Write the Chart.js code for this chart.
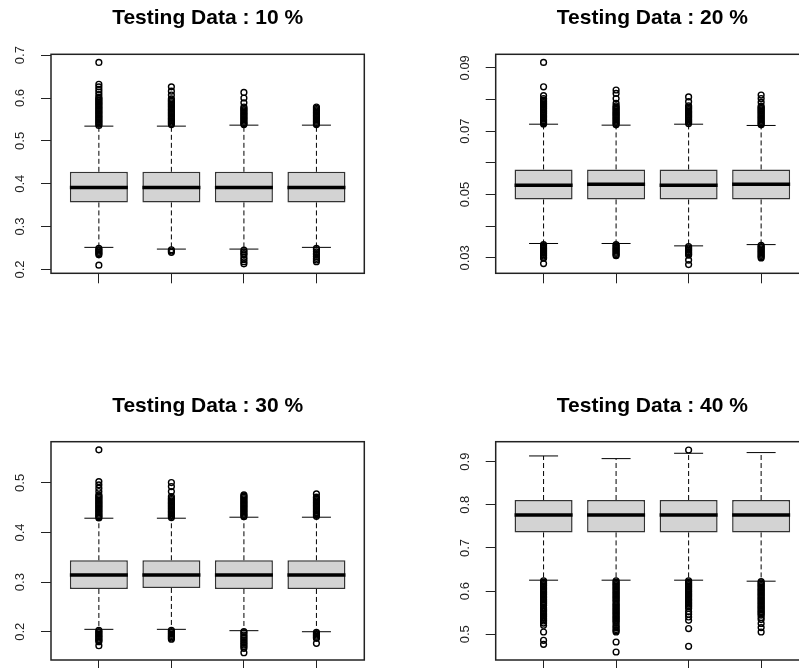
<!DOCTYPE html>
<html>
<head>
<meta charset="utf-8">
<title>Testing Data boxplots</title>
<script src="https://cdn.jsdelivr.net/npm/chart.js@4.4.0/dist/chart.umd.min.js"></script>
<style>
  html, body { margin: 0; padding: 0; background: #fff; overflow: hidden; }
  body { width: 799px; height: 668px; position: relative; }
  canvas { position: absolute; }
</style>
</head>
<body>
<canvas id="p10" width="400" height="300" style="left:0;top:0"></canvas>
<canvas id="p20" width="420" height="300" style="left:400px;top:0"></canvas>
<canvas id="p30" width="400" height="300" style="left:0;top:380px"></canvas>
<canvas id="p40" width="420" height="300" style="left:400px;top:380px"></canvas>
<script>
// four groups per panel
var groups = [1, 2, 3, 4];

// Testing Data : 10 %
var q1_10 = [0.3564, 0.3564, 0.3564, 0.3564];
var med_10 = [0.3914, 0.3914, 0.3914, 0.3914];
var q3_10 = [0.4278, 0.4278, 0.4278, 0.4278];
var lo_10 = [0.2515, 0.2475, 0.2475, 0.2515];
var hi_10 = [0.5344, 0.5344, 0.5367, 0.5367];
var out_10 = [
    [0.683, 0.632, 0.626, 0.620, 0.614, 0.608, 0.602, 0.599, 0.596, 0.593, 0.590, 0.587, 0.584, 0.581, 0.578, 0.575,
     0.572, 0.569, 0.566, 0.563, 0.560, 0.557, 0.554, 0.551, 0.548, 0.545, 0.542, 0.539, 0.536,
     0.249, 0.246, 0.243, 0.240, 0.237, 0.234, 0.210],
    [0.626, 0.616, 0.607, 0.598, 0.595, 0.592, 0.589, 0.586, 0.583, 0.580, 0.577, 0.574, 0.571, 0.568, 0.565, 0.562,
     0.559, 0.556, 0.553, 0.550, 0.547, 0.544, 0.541, 0.538,
     0.246, 0.243, 0.240],
    [0.613, 0.600, 0.589, 0.579, 0.576, 0.573, 0.570, 0.567, 0.564, 0.561, 0.558, 0.555, 0.552, 0.549, 0.546, 0.543,
     0.540, 0.538,
     0.245, 0.241, 0.237, 0.234, 0.228, 0.223, 0.218, 0.213],
    [0.579, 0.576, 0.573, 0.570, 0.567, 0.564, 0.561, 0.558, 0.555, 0.552, 0.549, 0.546, 0.543, 0.540, 0.538,
     0.249, 0.246, 0.241, 0.237, 0.234, 0.230, 0.226, 0.222, 0.218]
];
var ticks_10 = [0.2, 0.3, 0.4, 0.5, 0.6, 0.7];
var labels_10 = ['0.2', '0.3', '0.4', '0.5', '0.6', '0.7'];

// Testing Data : 20 %
var q1_20 = [0.04845, 0.04845, 0.04845, 0.04845];
var med_20 = [0.05296, 0.05328, 0.05296, 0.05328];
var q3_20 = [0.05792, 0.05792, 0.05792, 0.05792];
var lo_20 = [0.03455, 0.03455, 0.0338, 0.0342];
var hi_20 = [0.0722, 0.0719, 0.0722, 0.0718];
var out_20 = [
    [0.0917, 0.0840, 0.0812, 0.0803, 0.0798, 0.0794, 0.0790, 0.0786, 0.0782, 0.0778, 0.0774, 0.0770, 0.0766, 0.0762,
     0.0758, 0.0754, 0.0750, 0.0746, 0.0742, 0.0738, 0.0734, 0.0730, 0.0726, 0.0723,
     0.0342, 0.0338, 0.0334, 0.0330, 0.0326, 0.0322, 0.0318, 0.0314, 0.0310, 0.0306, 0.0302, 0.0299, 0.0282],
    [0.0830, 0.0819, 0.0803, 0.0788, 0.0780, 0.0776, 0.0772, 0.0768, 0.0764, 0.0760, 0.0756, 0.0752, 0.0748, 0.0744,
     0.0740, 0.0736, 0.0732, 0.0728, 0.0724, 0.0720,
     0.0342, 0.0338, 0.0334, 0.0330, 0.0326, 0.0322, 0.0318, 0.0314, 0.0310, 0.0307],
    [0.0808, 0.0793, 0.0780, 0.0776, 0.0772, 0.0768, 0.0764, 0.0760, 0.0756, 0.0752, 0.0748, 0.0744, 0.0740, 0.0736,
     0.0732, 0.0728, 0.0724,
     0.0336, 0.0332, 0.0328, 0.0324, 0.0320, 0.0316, 0.0312, 0.0309, 0.0293, 0.0279],
    [0.0814, 0.0803, 0.0791, 0.0779, 0.0775, 0.0771, 0.0767, 0.0763, 0.0759, 0.0755, 0.0751, 0.0747, 0.0743, 0.0739,
     0.0735, 0.0731, 0.0727, 0.0723, 0.0720,
     0.0340, 0.0336, 0.0332, 0.0328, 0.0324, 0.0320, 0.0316, 0.0312, 0.0308, 0.0304, 0.0300]
];
var ticks_20 = [0.03, 0.04, 0.05, 0.06, 0.07, 0.08, 0.09];
var labels_20 = ['0.03', '', '0.05', '', '0.07', '', '0.09'];

// Testing Data : 30 %
var q1_30 = [0.2862, 0.2882, 0.2862, 0.2862];
var med_30 = [0.3144, 0.3144, 0.3144, 0.3144];
var q3_30 = [0.3440, 0.3440, 0.3440, 0.3440];
var lo_30 = [0.2048, 0.2048, 0.2021, 0.2000];
var hi_30 = [0.4288, 0.4288, 0.4308, 0.4308];
var out_30 = [
    [0.5666, 0.5026, 0.4960, 0.4893, 0.4825, 0.4758, 0.4732, 0.4706, 0.4680, 0.4654, 0.4628, 0.4602, 0.4576, 0.4550,
     0.4524, 0.4498, 0.4472, 0.4446, 0.4420, 0.4394, 0.4368, 0.4342, 0.4316, 0.4294,
     0.2030, 0.2004, 0.1978, 0.1952, 0.1926, 0.1900, 0.1874, 0.1848, 0.1822, 0.1800, 0.1718],
    [0.5007, 0.4926, 0.4825, 0.4724, 0.4690, 0.4664, 0.4638, 0.4612, 0.4586, 0.4560, 0.4534, 0.4508, 0.4482, 0.4456,
     0.4430, 0.4404, 0.4378, 0.4352, 0.4326, 0.4300,
     0.2030, 0.2004, 0.1978, 0.1952, 0.1926, 0.1900, 0.1874, 0.1850],
    [0.4758, 0.4732, 0.4706, 0.4680, 0.4654, 0.4628, 0.4602, 0.4576, 0.4550, 0.4524, 0.4498, 0.4472, 0.4446, 0.4420,
     0.4394, 0.4368, 0.4342, 0.4318,
     0.2000, 0.1975, 0.1934, 0.1900, 0.1867, 0.1833, 0.1799, 0.1766, 0.1733, 0.1700, 0.1666, 0.1577],
    [0.4778, 0.4711, 0.4690, 0.4664, 0.4638, 0.4612, 0.4586, 0.4560, 0.4534, 0.4508, 0.4482, 0.4456, 0.4430, 0.4404,
     0.4378, 0.4352, 0.4326,
     0.1985, 0.1960, 0.1935, 0.1910, 0.1885, 0.1866, 0.1766]
];
var ticks_30 = [0.2, 0.3, 0.4, 0.5];
var labels_30 = ['0.2', '0.3', '0.4', '0.5'];

// Testing Data : 40 %
var q1_40 = [0.7361, 0.7361, 0.7361, 0.7361];
var med_40 = [0.7763, 0.7763, 0.7763, 0.7763];
var q3_40 = [0.8111, 0.8111, 0.8111, 0.8111];
var lo_40 = [0.6254, 0.6254, 0.6254, 0.6231];
var hi_40 = [0.9132, 0.9070, 0.9194, 0.9210];
var out_40 = [
    [0.6240, 0.6210, 0.6180, 0.6150, 0.6120, 0.6090, 0.6060, 0.6030, 0.6000, 0.5970, 0.5940, 0.5910, 0.5880, 0.5850,
     0.5820, 0.5790, 0.5760, 0.5730, 0.5700, 0.5670, 0.5610, 0.5580, 0.5550, 0.5520, 0.5490, 0.5460, 0.5430, 0.5400,
     0.5370, 0.5340, 0.5310, 0.5260, 0.5210, 0.5054, 0.4861, 0.4768],
    [0.6240, 0.6210, 0.6180, 0.6150, 0.6120, 0.6090, 0.6060, 0.6030, 0.6000, 0.5970, 0.5940, 0.5910, 0.5880, 0.5850,
     0.5820, 0.5790, 0.5760, 0.5720, 0.5690, 0.5660, 0.5630, 0.5600, 0.5570, 0.5540, 0.5510, 0.5480, 0.5450, 0.5420,
     0.5390, 0.5360, 0.5330, 0.5300, 0.5270, 0.5220, 0.5180, 0.5150, 0.5110, 0.5080, 0.5054, 0.4822, 0.4590],
    [0.9270,
     0.6240, 0.6210, 0.6180, 0.6150, 0.6120, 0.6090, 0.6060, 0.6030, 0.6000, 0.5970, 0.5940, 0.5910, 0.5880, 0.5850,
     0.5820, 0.5790, 0.5760, 0.5730, 0.5700, 0.5670, 0.5640, 0.5600, 0.5520, 0.5465, 0.5402, 0.5325, 0.5133, 0.4722],
    [0.6220, 0.6190, 0.6160, 0.6130, 0.6100, 0.6070, 0.6040, 0.6010, 0.5980, 0.5950, 0.5920, 0.5890, 0.5860, 0.5830,
     0.5800, 0.5770, 0.5740, 0.5710, 0.5680, 0.5650, 0.5620, 0.5590, 0.5560, 0.5530, 0.5500, 0.5470, 0.5442, 0.5390,
     0.5342, 0.5250, 0.5156, 0.5054]
];
var ticks_40 = [0.5, 0.6, 0.7, 0.8, 0.9];
var labels_40 = ['0.5', '0.6', '0.7', '0.8', '0.9'];

var fontFamily = "'Liberation Sans', Arial, sans-serif";
var boxHalf = 0.4;   // box width 0.8 like R
var capHalf = 0.2;   // staple width half the box

// R style box() around the plot region
var framePlugin = {
    id: 'frame',
    afterDraw: function(chart) {
        var a = chart.chartArea;
        var ctx = chart.ctx;
        ctx.save();
        ctx.strokeStyle = '#222';
        ctx.lineWidth = 1.5;
        ctx.strokeRect(a.left, a.top, a.right - a.left, a.bottom - a.top);
        ctx.restore();
    }
};

function makePanel(id, title, q1, med, q3, lo, hi, out, yMin, yMax, tickVals, tickLabels, lay) {
    var boxes = [], medians = [], caps = [], whiskers = [], points = [];
    groups.forEach(function(g, i) {
        boxes.push({ x: g, y: [q1[i], q3[i]] });
        medians.push({ x: g - boxHalf, y: med[i] }, { x: g + boxHalf, y: med[i] }, { x: g, y: null });
        caps.push({ x: g - capHalf, y: hi[i] }, { x: g + capHalf, y: hi[i] }, { x: g, y: null },
                  { x: g - capHalf, y: lo[i] }, { x: g + capHalf, y: lo[i] }, { x: g, y: null });
        whiskers.push({ x: g, y: q3[i] }, { x: g, y: hi[i] }, { x: g, y: null },
                      { x: g, y: q1[i] }, { x: g, y: lo[i] }, { x: g, y: null });
        out[i].forEach(function(v) { points.push({ x: g, y: v }); });
    });

    var lineSet = function(data, width, dash) {
        return {
            type: 'line', data: data, borderColor: '#000', borderWidth: width, borderDash: dash || [],
            pointRadius: 0, pointHoverRadius: 0, fill: false, spanGaps: false, borderCapStyle: 'butt'
        };
    };

    return new Chart(document.getElementById(id), {
        type: 'bar',
        data: {
            datasets: [
                {
                    type: 'line', data: points, showLine: false, pointStyle: 'circle', pointRadius: 2.9,
                    pointBackgroundColor: 'rgba(0,0,0,0)', pointBorderColor: '#000', pointBorderWidth: 1.4,
                    pointHoverRadius: 2.9
                },
                lineSet(medians, 3.5),
                lineSet(caps, 1),
                lineSet(whiskers, 1, [5, 3]),
                {
                    data: boxes, backgroundColor: '#d3d3d3', borderColor: '#333', borderWidth: 1.5,
                    borderSkipped: false, barPercentage: 0.8, categoryPercentage: 1.0
                }
            ]
        },
        options: {
            responsive: false,
            devicePixelRatio: 1,
            animation: false,
            events: [],
            layout: { padding: { left: lay.pl, right: lay.pr, top: 0, bottom: 0 } },
            plugins: {
                legend: { display: false },
                tooltip: { enabled: false },
                title: {
                    display: true, text: title, fullSize: false, color: '#000',
                    font: { family: fontFamily, size: 21, weight: 'bold' },
                    padding: { top: lay.tt, bottom: lay.tb }
                }
            },
            scales: {
                x: {
                    type: 'linear', min: 0.34, max: 4.66, offset: false,
                    grid: { display: true, drawOnChartArea: false, drawTicks: true, tickLength: 10, color: '#222', offset: false },
                    border: { display: false },
                    ticks: { display: false },
                    afterBuildTicks: function(s) { s.ticks = groups.map(function(v) { return { value: v }; }); },
                    afterFit: function(s) { s.height = lay.xh; }
                },
                y: {
                    type: 'linear', min: yMin, max: yMax,
                    grid: { display: true, drawOnChartArea: false, drawTicks: true, tickLength: 10, color: '#222' },
                    border: { display: false },
                    ticks: {
                        minRotation: 90, maxRotation: 90, crossAlign: 'center', padding: lay.lp, autoSkip: false,
                        color: '#222', font: { family: fontFamily, size: 13 },
                        callback: function(v, i) { return tickLabels[i]; }
                    },
                    afterBuildTicks: function(s) { s.ticks = tickVals.map(function(v) { return { value: v }; }); },
                    afterFit: function(s) { s.width = 51; }
                }
            }
        },
        plugins: [framePlugin]
    });
}

makePanel('p10', 'Testing Data : 10 %', q1_10, med_10, q3_10, lo_10, hi_10, out_10, 0.191, 0.702, ticks_10, labels_10,
    { pl: 0, pr: 35.7, tt: 5.4, tb: 23.7, xh: 26.7, lp: 11.7 });
makePanel('p20', 'Testing Data : 20 %', q1_20, med_20, q3_20, lo_20, hi_20, out_20, 0.02514, 0.09426, ticks_20, labels_20,
    { pl: 44.7, pr: 11, tt: 5.4, tb: 23.7, xh: 26.7, lp: 8 });
makePanel('p30', 'Testing Data : 30 %', q1_30, med_30, q3_30, lo_30, hi_30, out_30, 0.143, 0.583, ticks_30, labels_30,
    { pl: 0, pr: 35.7, tt: 13.4, tb: 23.1, xh: 20, lp: 11.7 });
makePanel('p40', 'Testing Data : 40 %', q1_40, med_40, q3_40, lo_40, hi_40, out_40, 0.4405, 0.9462, ticks_40, labels_40,
    { pl: 44.7, pr: 11, tt: 13.4, tb: 23.1, xh: 20, lp: 11.7 });
</script>
</body>
</html>
